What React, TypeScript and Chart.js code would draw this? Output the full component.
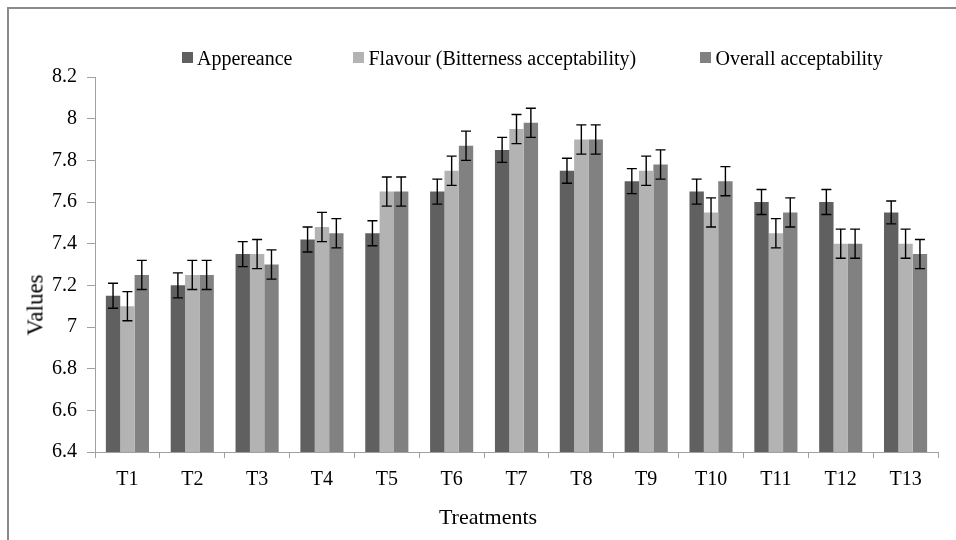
import React, { useEffect, useRef } from "react";
import { Chart, registerables } from "chart.js";

Chart.register(...registerables);

const categories = ["T1", "T2", "T3", "T4", "T5", "T6", "T7", "T8", "T9", "T10", "T11", "T12", "T13"];
const seriesNames = ["Appereance", "Flavour (Bitterness acceptability)", "Overall acceptability"];
const appearance = [7.15, 7.2, 7.35, 7.42, 7.45, 7.65, 7.85, 7.75, 7.7, 7.65, 7.6, 7.6, 7.55];
const flavour = [7.1, 7.25, 7.35, 7.48, 7.65, 7.75, 7.95, 7.9, 7.75, 7.55, 7.45, 7.4, 7.4];
const overall = [7.25, 7.25, 7.3, 7.45, 7.65, 7.87, 7.98, 7.9, 7.78, 7.7, 7.55, 7.4, 7.35];
const appearanceErr = [0.06, 0.06, 0.06, 0.06, 0.06, 0.06, 0.06, 0.06, 0.06, 0.06, 0.06, 0.06, 0.055];
const flavourErr = [0.07, 0.07, 0.07, 0.07, 0.07, 0.07, 0.07, 0.07, 0.07, 0.07, 0.07, 0.07, 0.07];
const overallErr = [0.07, 0.07, 0.07, 0.07, 0.07, 0.07, 0.07, 0.07, 0.07, 0.07, 0.07, 0.07, 0.07];
const yTickLabels = ["6.4", "6.6", "6.8", "7", "7.2", "7.4", "7.6", "7.8", "8", "8.2"];
const yMin = 6.4;
const yMax = 8.2;
const yStep = 0.2;
const xTitle = "Treatments";
const yTitle = "Values";

const colors = ["#606060", "#b3b3b3", "#818181"];
const axisColor = "#a0a0a0";
const serif = "'Liberation Serif', 'Times New Roman', serif";

const errorBarPlugin = {
  id: "errorBars",
  afterDatasetsDraw(chart: any) {
    const ctx = chart.ctx;
    const yScale = chart.scales.y;
    chart.data.datasets.forEach((ds: any, i: number) => {
      const meta = chart.getDatasetMeta(i);
      const errs: number[] = ds.errors || [];
      meta.data.forEach((bar: any, j: number) => {
        const v = ds.data[j];
        const e = errs[j];
        if (v == null || e == null) return;
        const top = yScale.getPixelForValue(v + e);
        const bot = yScale.getPixelForValue(v - e);
        const x = bar.x;
        const half = 5;
        ctx.save();
        ctx.strokeStyle = "#000";
        ctx.lineWidth = 1.4;
        ctx.beginPath();
        ctx.moveTo(x, top);
        ctx.lineTo(x, bot);
        ctx.moveTo(x - half, top);
        ctx.lineTo(x + half, top);
        ctx.moveTo(x - half, bot);
        ctx.lineTo(x + half, bot);
        ctx.stroke();
        ctx.restore();
      });
    });
  },
};

export default function App() {
  const canvasRef = useRef<HTMLCanvasElement | null>(null);

  useEffect(() => {
    if (!canvasRef.current) return;
    const values = [appearance, flavour, overall];
    const errors = [appearanceErr, flavourErr, overallErr];
    const chart = new Chart(canvasRef.current, {
      type: "bar",
      data: {
        labels: categories,
        datasets: seriesNames.map((name, i) => ({
          label: name,
          data: values[i],
          errors: errors[i],
          backgroundColor: colors[i],
          borderWidth: 0,
          categoryPercentage: 0.665,
          barPercentage: 1,
        })) as any,
      },
      options: {
        responsive: false,
        animation: false,
        layout: { padding: { left: 0, top: 77, right: 18, bottom: 0 } },
        plugins: {
          legend: { display: false },
          tooltip: { enabled: false },
          title: { display: false },
        },
        scales: {
          x: {
            type: "category",
            offset: true,
            grid: {
              display: true,
              drawOnChartArea: false,
              drawTicks: true,
              tickLength: 6,
              color: axisColor,
              offset: true,
            },
            border: { display: true, color: axisColor, width: 1 },
            ticks: {
              color: "#000",
              font: { family: serif, size: 20 },
              padding: 10,
              maxRotation: 0,
              autoSkip: false,
            },
            afterFit: (s: any) => {
              s.height = 88;
            },
          },
          y: {
            min: yMin,
            max: yMax,
            grid: {
              display: true,
              drawOnChartArea: false,
              drawTicks: true,
              tickLength: 8,
              color: axisColor,
            },
            border: { display: true, color: axisColor, width: 1 },
            ticks: {
              stepSize: yStep,
              color: "#000",
              font: { family: serif, size: 20 },
              padding: 10,
              callback: (v: any) => {
                const idx = Math.round((Number(v) - yMin) / yStep);
                return yTickLabels[idx] ?? "";
              },
            },
            afterFit: (s: any) => {
              s.width = 95;
            },
          },
        },
      } as any,
      plugins: [errorBarPlugin],
    });
    return () => chart.destroy();
  }, []);

  const legendLefts = [181.5, 353, 700];

  return (
    <div>
      <canvas
        ref={canvasRef}
        width={956}
        height={540}
        style={{ position: "fixed", left: 0, top: 0, width: 956, height: 540, display: "block" }}
      />
      {seriesNames.map((name, i) => (
        <div
          key={name}
          style={{
            position: "fixed",
            left: legendLefts[i],
            top: 47.5,
            height: 20,
            display: "flex",
            alignItems: "center",
            whiteSpace: "nowrap",
            fontFamily: serif,
            fontSize: 20,
            lineHeight: "20px",
            color: "#000",
          }}
        >
          <span style={{ display: "inline-block", width: 11, height: 11, background: colors[i], marginRight: 4.5 }} />
          <span>{name}</span>
        </div>
      ))}
      <div
        style={{
          position: "fixed",
          left: 35,
          top: 305,
          transform: "translate(-50%, -50%) rotate(-90deg)",
          fontFamily: serif,
          fontSize: 23,
          lineHeight: "23px",
          whiteSpace: "nowrap",
          color: "#000",
        }}
      >
        {yTitle}
      </div>
      <div
        style={{
          position: "fixed",
          left: 488,
          top: 517,
          transform: "translate(-50%, -50%)",
          fontFamily: serif,
          fontSize: 22,
          lineHeight: "22px",
          whiteSpace: "nowrap",
          color: "#000",
        }}
      >
        {xTitle}
      </div>
      <div
        style={{
          position: "fixed",
          left: 7,
          top: 7,
          width: 1000,
          height: 600,
          borderTop: "2px solid #8a8a8a",
          borderLeft: "2px solid #8a8a8a",
          pointerEvents: "none",
        }}
      />
    </div>
  );
}
